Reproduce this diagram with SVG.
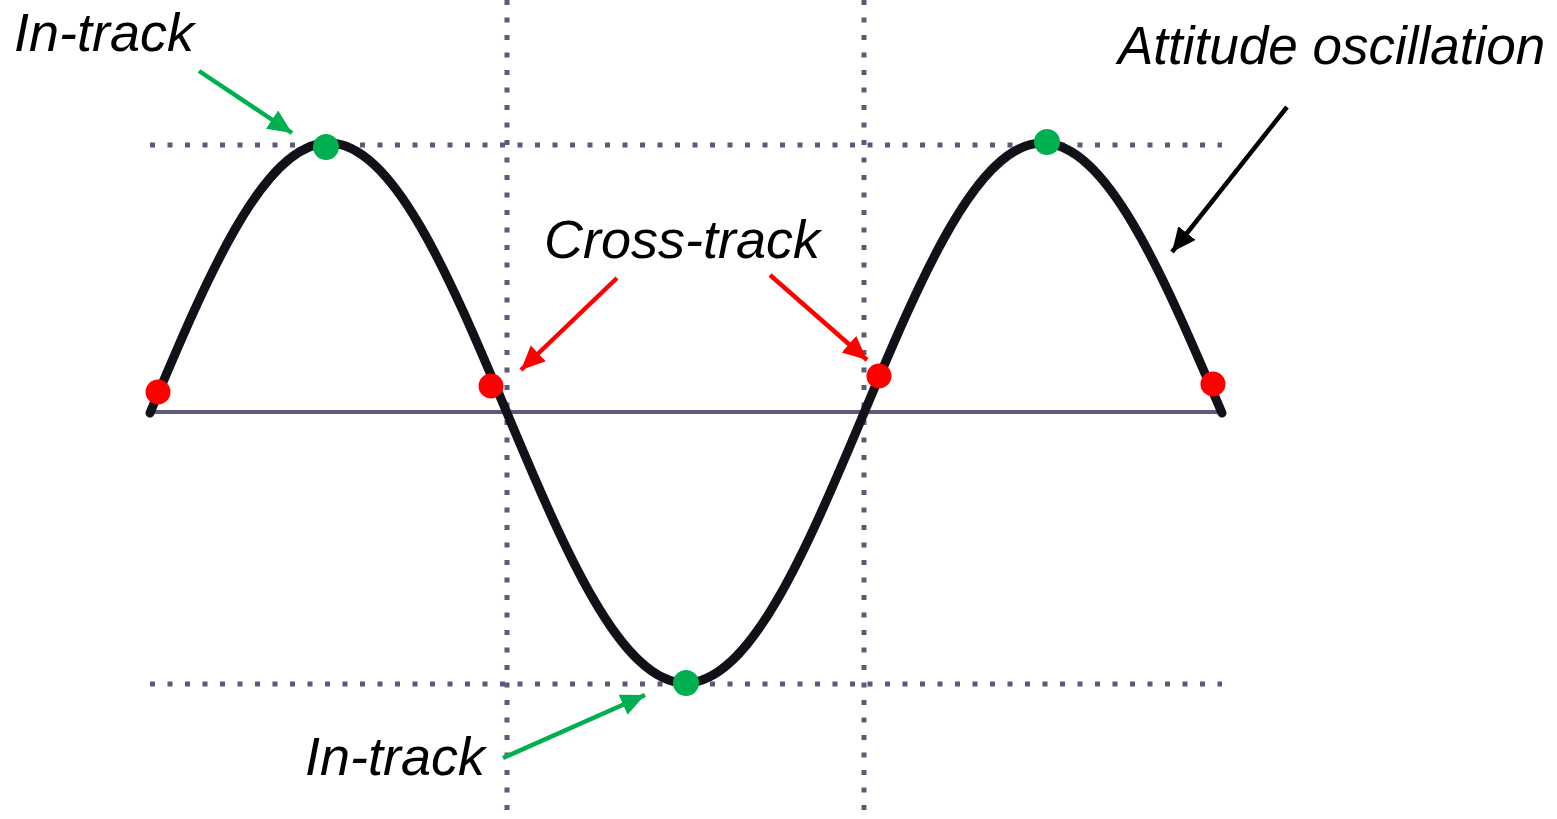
<svg xmlns="http://www.w3.org/2000/svg" width="1557" height="819" viewBox="0 0 1557 819">
<style>
.dot{fill:none;stroke:#5a5a7c;stroke-width:5;stroke-dasharray:5 12.5}
.lbl{font-family:"Liberation Sans",Arial,sans-serif;font-style:italic;font-size:54px;fill:#000}
.red{fill:#ff0000}
.grn{fill:#00b050}
</style>
<defs>
<marker id="ag" markerUnits="userSpaceOnUse" markerWidth="30" markerHeight="30" refX="24" refY="11" orient="auto"><path d="M0,0 L24,11 L0,22 Z" fill="#00b050"/></marker>
<marker id="ar" markerUnits="userSpaceOnUse" markerWidth="30" markerHeight="30" refX="24" refY="11" orient="auto"><path d="M0,0 L24,11 L0,22 Z" fill="#ff0000"/></marker>
<marker id="ak" markerUnits="userSpaceOnUse" markerWidth="30" markerHeight="30" refX="24" refY="11" orient="auto"><path d="M0,0 L24,11 L0,22 Z" fill="#000"/></marker>
</defs>
<rect width="1557" height="819" fill="#fff"/>
<g id="grid">
<line class="dot" x1="150" y1="145" x2="1222" y2="145"/>
<line class="dot" x1="150" y1="684" x2="1222" y2="684"/>
<line class="dot" x1="507" y1="0" x2="507" y2="819"/>
<line class="dot" x1="864" y1="0" x2="864" y2="819"/>
<line x1="150" y1="412" x2="1220" y2="412" stroke="#5c5c80" stroke-width="4"/>
</g>
<g id="wave">
<path d="M150,413 C208.2,274.7 263.9,143 328.5,143 C393.1,143 448.8,274.7 507,413 C565.2,551.3 620.9,683 685.5,683 C750.1,683 805.8,551.3 864,413 C922.2,274.7 977.9,143 1042.5,143 C1107.1,143 1162.8,274.7 1222,413" fill="none" stroke="#111118" stroke-width="9" stroke-linecap="round"/>
</g>
<g id="points">
<circle class="red" cx="158" cy="392" r="12.5"/>
<circle class="red" cx="491" cy="386" r="12.5"/>
<circle class="red" cx="879" cy="376" r="12.5"/>
<circle class="red" cx="1213" cy="384" r="12.5"/>
<circle class="grn" cx="326" cy="147" r="13"/>
<circle class="grn" cx="686" cy="683" r="13"/>
<circle class="grn" cx="1047" cy="142" r="13"/>
</g>
<g id="connectors" fill="none" stroke-width="4.5">
<line x1="199" y1="71" x2="292" y2="133" stroke="#00b050" marker-end="url(#ag)"/>
<line x1="503" y1="758" x2="645" y2="695" stroke="#00b050" marker-end="url(#ag)"/>
<line x1="617" y1="278" x2="521" y2="370" stroke="#ff0000" marker-end="url(#ar)"/>
<line x1="770" y1="275" x2="867" y2="360" stroke="#ff0000" marker-end="url(#ar)"/>
<line x1="1287" y1="107" x2="1172" y2="252" stroke="#000" marker-end="url(#ak)"/>
</g>
<g id="labels">
<text class="lbl" x="14" y="51">In-track</text>
<text class="lbl" x="305" y="775">In-track</text>
<text class="lbl" x="544" y="258">Cross-track</text>
<text class="lbl" x="1118" y="64" style="font-size:53px">Attitude oscillation</text>
</g>
</svg>
